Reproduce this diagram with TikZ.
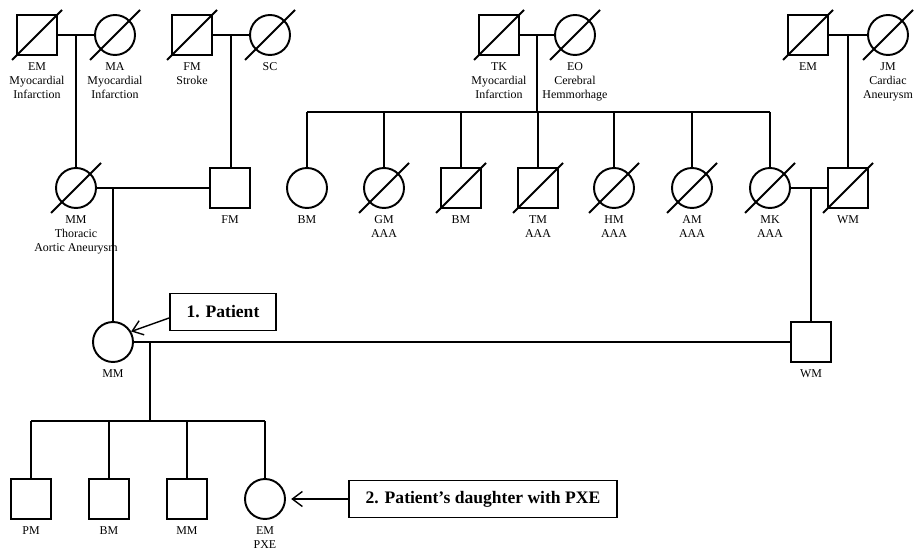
\documentclass[tikz,border=0pt]{standalone}
\usepackage{fontspec}
\setmainfont{Liberation Serif}
\usepackage{tikz}
\usetikzlibrary{arrows.meta, positioning, calc}

\begin{document}
\begin{tikzpicture}[
  x=0.02cm, y=-0.02cm,
  line width=1.1pt,
  male/.style={draw, rectangle, minimum size=0.8cm, inner sep=0pt},
  female/.style={draw, circle, minimum size=0.8cm, inner sep=0pt},
  lbl/.style={font=\fontsize{6.8}{8}\selectfont, align=center, inner sep=1pt},
  callout/.style={draw, line width=0.9pt, font=\bfseries\fontsize{10}{12}\selectfont,
                  inner xsep=9.5pt, minimum height=0.74cm},
  pointer/.style={-{Straight Barb[length=2mm,width=3mm]}, line width=0.8pt}
]
  \useasboundingbox (0,0) rectangle (920,550);

  % grandparents
  \node[male]   (EMa) at (37,35)  {};
  \node[female] (MA)  at (115,35) {};
  \node[male]   (FMa) at (192,35) {};
  \node[female] (SC)  at (270,35) {};
  \node[male]   (TK)  at (499,35) {};
  \node[female] (EO)  at (575,35) {};
  \node[male]   (EMb) at (808,35) {};
  \node[female] (JM)  at (888,35) {};

  % parents and their sibs
  \node[female] (MMa) at (76,188)  {};
  \node[male]   (FMb) at (230,188) {};
  \node[female] (BMa) at (307,188) {};
  \node[female] (GM)  at (384,188) {};
  \node[male]   (BMb) at (461,188) {};
  \node[male]   (TM)  at (538,188) {};
  \node[female] (HM)  at (614,188) {};
  \node[female] (AM)  at (692,188) {};
  \node[female] (MK)  at (770,188) {};
  \node[male]   (WMa) at (848,188) {};

  % patient and spouse
  \node[female] (Pat) at (113,342) {};
  \node[male]   (WMb) at (811,342) {};

  % children
  \node[male]   (PM)  at (31,499)  {};
  \node[male]   (BMc) at (109,499) {};
  \node[male]   (MMb) at (187,499) {};
  \node[female] (EMc) at (265,499) {};

  % names below the symbols
  \node[lbl, below=2pt of EMa] (tEMa) {EM\\Myocardial\\Infarction};
  \node[lbl, below=2pt of MA]  (tMA)  {MA\\Myocardial\\Infarction};
  \node[lbl, below=2pt of FMa] (tFMa) {FM\\Stroke};
  \node[lbl, below=2pt of SC]  (tSC)  {SC};
  \node[lbl, below=2pt of TK]  (tTK)  {TK\\Myocardial\\Infarction};
  \node[lbl, below=2pt of EO]  (tEO)  {EO\\Cerebral\\Hemmorhage};
  \node[lbl, below=2pt of EMb] (tEMb) {EM};
  \node[lbl, below=2pt of JM]  (tJM)  {JM\\Cardiac\\Aneurysm};
  \node[lbl, below=2pt of MMa] (tMMa) {MM\\Thoracic\\Aortic Aneurysm};
  \node[lbl, below=2pt of FMb] (tFMb) {FM};
  \node[lbl, below=2pt of BMa] (tBMa) {BM};
  \node[lbl, below=2pt of GM]  (tGM)  {GM\\AAA};
  \node[lbl, below=2pt of BMb] (tBMb) {BM};
  \node[lbl, below=2pt of TM]  (tTM)  {TM\\AAA};
  \node[lbl, below=2pt of HM]  (tHM)  {HM\\AAA};
  \node[lbl, below=2pt of AM]  (tAM)  {AM\\AAA};
  \node[lbl, below=2pt of MK]  (tMK)  {MK\\AAA};
  \node[lbl, below=2pt of WMa] (tWMa) {WM};
  \node[lbl, below=2pt of Pat] (tPat) {MM};
  \node[lbl, below=2pt of WMb] (tWMb) {WM};
  \node[lbl, below=2pt of PM]  (tPM)  {PM};
  \node[lbl, below=2pt of BMc] (tBMc) {BM};
  \node[lbl, below=2pt of MMb] (tMMb) {MM};
  \node[lbl, below=2pt of EMc] (tEMc) {EM\\PXE};

  % deceased
  \foreach \n in {EMa,MA,FMa,SC,TK,EO,EMb,JM,MMa,GM,BMb,TM,HM,AM,MK,WMa}
    \draw ($(\n)+(-25,25)$) -- ($(\n)+(25,-25)$);

  % couples and lines of descent
  \draw (EMa) -- (MA);
  \draw ($(EMa)!0.5!(MA)$) -- (MMa.north);
  \draw (FMa) -- (SC);
  \draw ($(FMa)!0.5!(SC)$) coordinate (fs) -- (fs |- FMb.north);
  \draw (TK) -- (EO);
  \coordinate (sibR) at (538,112);
  \draw ($(TK)!0.5!(EO)$) coordinate (te) -- (te |- sibR);
  \draw (BMa.north |- sibR) -- (MK.north |- sibR);
  \foreach \n in {BMa,GM,BMb,TM,HM,AM,MK}
    \draw (\n.north |- sibR) -- (\n.north);
  \draw (EMb) -- (JM);
  \draw (WMa.north |- EMb) -- (WMa.north);

  \draw (MMa) -- (FMb);
  \draw (Pat.north |- MMa) -- (Pat.north);
  \draw (MK) -- (WMa);
  \draw (WMb.north |- MK) -- (WMb.north);

  \draw (Pat) -- (WMb);
  \coordinate (kids) at (150,421);
  \draw (kids |- Pat) -- (kids);
  \draw (PM.north |- kids) -- (EMc.north |- kids);
  \foreach \n in {PM,BMc,MMb,EMc}
    \draw (\n.north |- kids) -- (\n.north);

  % callouts
  \node[callout] (box1) at (223,312) {1. Patient};
  \node[callout] (box2) at (483,499) {2. Patient’s daughter with PXE};
  \draw[pointer] ([yshift=-3.4pt]box1.west) -- (Pat.30);
  \draw[pointer, shorten >=3pt] (box2) -- (EMc);
\end{tikzpicture}
\end{document}
